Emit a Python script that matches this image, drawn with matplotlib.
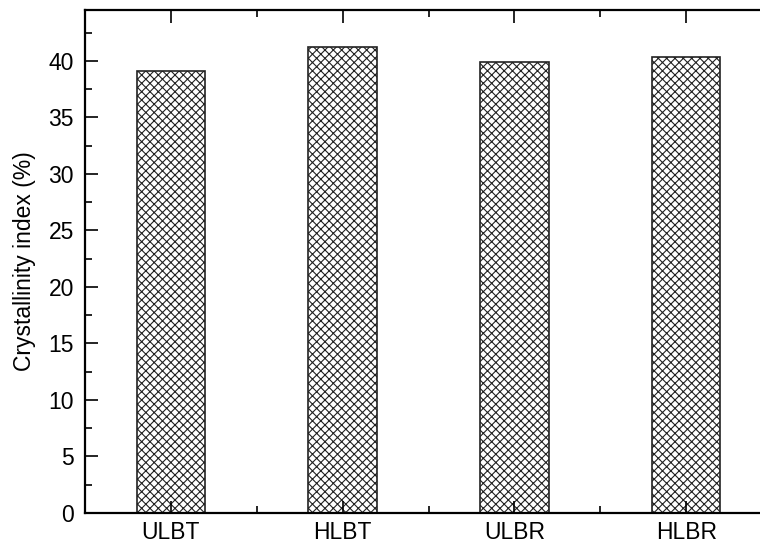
import numpy as np
import matplotlib.pyplot as plt
from matplotlib.ticker import MultipleLocator

samples = ['ULBT', 'HLBT', 'ULBR', 'HLBR']
crystallinity = [39.1, 41.2, 39.9, 40.3]

plt.rcParams['font.family'] = ['Liberation Sans', 'DejaVu Sans']
plt.rcParams['hatch.linewidth'] = 0.8

fig = plt.figure(figsize=(7.6, 5.46), dpi=100)
# right edge of the frame runs just past the figure border
ax = fig.add_axes([85 / 760, 1 - 513 / 546, 687 / 760, 503 / 546])

x = np.arange(1, len(samples) + 1)
ax.bar(x, crystallinity, width=0.4, color='white', edgecolor='#222222',
       linewidth=1.2, hatch='xxxx')

ax.set_xlim(0.5, 4.5)
ax.set_ylim(0, 44.5)
ax.set_xticks(x)
ax.set_xticklabels(samples)
ax.xaxis.set_minor_locator(MultipleLocator(0.5))
ax.yaxis.set_major_locator(MultipleLocator(5))
ax.yaxis.set_minor_locator(MultipleLocator(2.5))
ax.tick_params(which='both', direction='in', top=True, right=True,
               labelsize=16.5, width=1.2)
ax.tick_params(which='major', length=9)
ax.tick_params(which='minor', length=5)
ax.tick_params(axis='x', pad=6)
ax.tick_params(axis='y', pad=8)
for sp in ax.spines.values():
    sp.set_linewidth(1.6)
ax.set_ylabel('Crystallinity index (%)', fontsize=16.5, labelpad=9)

fig.savefig('out.png', dpi=100)
